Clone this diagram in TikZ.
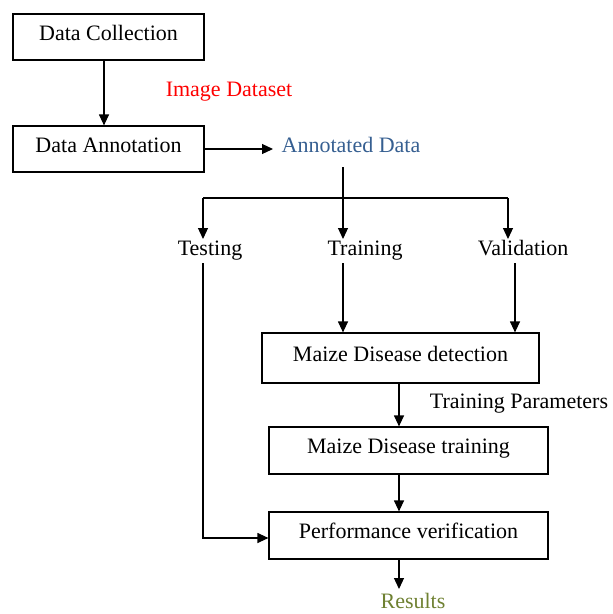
\documentclass[tikz,border=0pt]{standalone}
\usepackage{fontspec}
\setmainfont{Liberation Serif}
\usetikzlibrary{arrows.meta}
\definecolor{annblue}{HTML}{365F91}
\definecolor{resolive}{HTML}{6F8132}
\begin{document}
\begin{tikzpicture}[x=1pt,y=-1pt,
  box/.style={draw, line width=1.2pt, inner sep=0pt, text height=14pt, text depth=8pt,
    font=\fontsize{22}{26}\selectfont},
  lbl/.style={anchor=base, inner sep=0pt, font=\fontsize{22}{26}\selectfont},
  arr/.style={-{Triangle[length=11pt,width=10pt]}, line width=1.2pt},
  ln/.style={line width=1.2pt}]
\useasboundingbox (0,0) rectangle (613,614);
% boxes
\node[box, minimum width=191pt, minimum height=46pt] (dc) at (108.5,37) {Data Collection};
\node[box, minimum width=191pt, minimum height=46pt] (da) at (108.5,149) {Data Annotation};
\node[box, minimum width=277pt, minimum height=50pt] (det) at (400.5,358) {Maize Disease detection};
\node[box, minimum width=279pt, minimum height=47pt] (trn) at (408.5,450.5) {Maize Disease training};
\node[box, minimum width=279pt, minimum height=47pt] (pv) at (408.5,535.5) {Performance verification};
% labels
\node[lbl, text=red] (img) at (229,96) {Image Dataset};
\node[lbl, text=annblue] (ann) at (351,152) {Annotated Data};
\node[lbl] (test) at (210,255) {Testing};
\node[lbl] (train) at (365,255) {Training};
\node[lbl] (val) at (523,255) {Validation};
\node[lbl] (tp) at (519,408) {Training Parameters};
\node[lbl, text=resolive] (res) at (413,608) {Results};
% helper coordinates
\coordinate (xa) at (104,0);
\coordinate (xb) at (343,0);
\coordinate (xv) at (515,0);
\coordinate (xm) at (399,0);
\coordinate (annin) at (273,0);
\coordinate (sl) at (203,198);
\coordinate (sr) at (508,198);
\coordinate (corner) at (203,538);
% connectors
\draw[arr] (dc.south -| xa) -- (da.north -| xa);
\draw[arr] (da.east) -- (da.east -| annin);
\draw[arr] (343,167) coordinate (anntop) -- (343,239) coordinate (traintop);
\draw[ln] (sl) -- (sr);
\draw[arr] (sl) -- (203,239) coordinate (testtop);
\draw[arr] (sr) -- (508,239) coordinate (valtop);
\draw[arr] (343,263) coordinate (trainbot) -- (det.north -| xb);
\draw[arr] (515,263) coordinate (valbot) -- (det.north -| xv);
\draw[arr] (det.south -| xm) -- (trn.north -| xm);
\draw[arr] (trn.south -| xm) -- (pv.north -| xm);
\draw[arr] (203,263) coordinate (testbot) -- (corner) -- (corner -| pv.west);
\draw[arr] (pv.south -| xm) -- (399,589) coordinate (resin);
\end{tikzpicture}
\end{document}
